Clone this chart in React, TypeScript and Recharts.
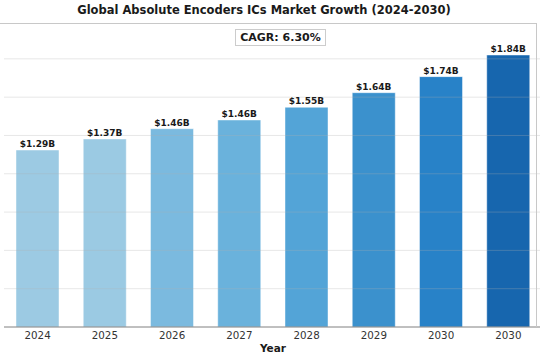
import { BarChart, Bar, XAxis, YAxis, Cell, LabelList, ReferenceLine } from 'recharts';

const years = ['2024', '2025', '2026', '2027', '2028', '2029', '2030', '2030'];
// bar heights (axis itself is cropped out)
const marketSize = [1.155, 1.227, 1.294, 1.351, 1.434, 1.529, 1.634, 1.775];
const valueLabels = ['$1.29B', '$1.37B', '$1.46B', '$1.46B', '$1.55B', '$1.64B', '$1.74B', '$1.84B'];
const barColors = ['#9ccae3', '#9bcae3', '#7bbadf', '#6ab2dc', '#53a4d7', '#3b91cd', '#2882c8', '#1766ae'];
const gridTicks = [0.25, 0.5, 0.75, 1.0, 1.25, 1.5, 1.75];
const yMax = 1.984;

const data = years.map((year, i) => ({
    key: `${year}-${i}`,
    year,
    value: marketSize[i],
    label: valueLabels[i],
    color: barColors[i],
}));

const font = "'DejaVu Sans', 'Liberation Sans', sans-serif";

export default function App() {
    return (
        <div style={{ position: 'absolute', left: 0, top: 0, width: 540, height: 360, overflow: 'hidden', background: '#fff', fontFamily: font }}>
            <div style={{ position: 'absolute', left: 264, top: 3, transform: 'translateX(-50%)', whiteSpace: 'nowrap', fontSize: 11.5, fontWeight: 'bold', color: '#1a1a1a' }}>
                Global Absolute Encoders ICs Market Growth (2024-2030)
            </div>
            <BarChart
                width={545}
                height={360}
                data={data}
                margin={{ top: 23, right: 3, left: 4, bottom: 0 }}
            >
                <XAxis
                    dataKey="key"
                    tickFormatter={(v: string) => v.split('-')[0]}
                    height={33}
                    tickSize={0}
                    tickMargin={5}
                    axisLine={{ stroke: '#808080', strokeWidth: 1 }}
                    tick={{ fontSize: 10.3, fill: '#333', fontFamily: font }}
                    interval={0}
                    label={{ value: 'Year', position: 'insideBottom', offset: 8, fontSize: 10.5, fontWeight: 'bold', fill: '#1a1a1a', fontFamily: font }}
                />
                <YAxis hide domain={[0, yMax]} ticks={gridTicks} />
                <Bar dataKey="value" barSize={43} isAnimationActive={false} stroke="#ffffff" strokeOpacity={0.45} strokeWidth={1}>
                    {data.map((d) => (
                        <Cell key={d.key} fill={d.color} />
                    ))}
                    <LabelList dataKey="label" position="top" offset={3} fontSize={9} fontWeight="bold" fill="#1a1a1a" fontFamily={font} />
                </Bar>
                {gridTicks.map((t) => (
                    <ReferenceLine key={t} y={t} stroke="#b0b0b0" strokeOpacity={0.3} strokeWidth={1} ifOverflow="visible" />
                ))}
            </BarChart>
            <div style={{ position: 'absolute', left: -1, top: 23, width: 537, height: 303, borderTop: '1px solid #c8c8c8', borderRight: '1px solid #c8c8c8', pointerEvents: 'none' }} />
            <div style={{ position: 'absolute', left: 235, top: 29, width: 89, height: 15, border: '1px solid #cccccc', background: '#fff', fontSize: 11, fontWeight: 'bold', color: '#1a1a1a', textAlign: 'center', lineHeight: '15px' }}>
                CAGR: 6.30%
            </div>
        </div>
    );
}
